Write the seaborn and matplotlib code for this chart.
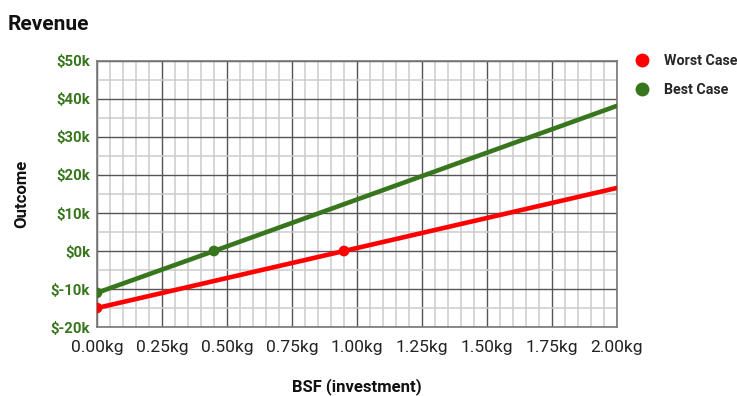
import matplotlib
matplotlib.use("Agg")
import matplotlib.pyplot as plt
import seaborn as sns
import pandas as pd
from matplotlib.ticker import MultipleLocator, FuncFormatter
from matplotlib.lines import Line2D

sns.set_theme(style="white")
plt.rcParams['font.family'] = ['Roboto', 'DejaVu Sans']

# Data
series_names = ["Worst Case", "Best Case"]
worst_x = [0.0, 0.95, 2.0]
worst_y = [-15000, 0, 16600]
best_x = [0.0, 0.45, 2.0]
best_y = [-11000, 0, 38200]
worst_marker_x = [0.0, 0.95]
worst_marker_y = [-15000, 0]
best_marker_x = [0.0, 0.45]
best_marker_y = [-11000, 0]
x_ticks = [0.0, 0.25, 0.5, 0.75, 1.0, 1.25, 1.5, 1.75, 2.0]
y_ticks = [-20000, -10000, 0, 10000, 20000, 30000, 40000, 50000]

RED = "#ff0000"
GREEN = "#38761d"

lines = pd.DataFrame({
    "x": worst_x + best_x,
    "y": worst_y + best_y,
    "series": [series_names[0]] * len(worst_x) + [series_names[1]] * len(best_x),
})
marks = pd.DataFrame({
    "x": worst_marker_x + best_marker_x,
    "y": worst_marker_y + best_marker_y,
    "series": [series_names[0]] * len(worst_marker_x) + [series_names[1]] * len(best_marker_x),
})
palette = {series_names[0]: RED, series_names[1]: GREEN}

fig = plt.figure(figsize=(7.37, 3.96), dpi=100)
ax = fig.add_axes([0.1316, 0.1742, 0.7056, 0.6718])

sns.lineplot(data=lines, x="x", y="y", hue="series", palette=palette, linewidth=3.3,
             legend=False, ax=ax, zorder=3)
sns.scatterplot(data=marks, x="x", y="y", hue="series", palette=palette, s=60,
                edgecolor="none", legend=False, ax=ax, zorder=4)

ax.set_xlim(0, 2.0)
ax.set_ylim(-20000, 50000)
ax.set_xticks(x_ticks)
ax.set_yticks(y_ticks)
ax.xaxis.set_minor_locator(MultipleLocator(0.05))
ax.yaxis.set_minor_locator(MultipleLocator(5000))
ax.xaxis.set_major_formatter(FuncFormatter(lambda v, p: f"{v:.2f}kg"))
ax.yaxis.set_major_formatter(FuncFormatter(lambda v, p: f"${int(round(v/1000))}k"))

ax.grid(which="minor", color="#cccccc", linewidth=1.1, zorder=0)
ax.grid(which="major", color="#555555", linewidth=1.0, zorder=1)
ax.set_axisbelow(True)
for s in ax.spines.values():
    s.set_color("#777777")
    s.set_linewidth(1.2)

ax.tick_params(axis="both", which="both", length=0)
ax.tick_params(axis="x", labelsize=12.5, labelcolor="#222222", pad=9)
ax.tick_params(axis="y", labelsize=10.7, labelcolor=GREEN, pad=5)
for lbl in ax.get_yticklabels():
    lbl.set_fontweight("bold")

ax.set_xlabel("BSF (investment)", fontsize=12, fontweight="bold", color="#111111", labelpad=17)
ax.set_ylabel("Outcome", fontsize=12, fontweight="bold", color="#111111", labelpad=15)

fig.text(0.011, 0.937, "Revenue", fontsize=15, fontweight="bold", color="#111111",
         ha="left", va="center")

handles = [Line2D([0], [0], marker="o", linestyle="", markersize=10, color=RED, markeredgewidth=0),
           Line2D([0], [0], marker="o", linestyle="", markersize=10, color=GREEN, markeredgewidth=0)]
leg = fig.legend(handles, series_names, loc="upper left", bbox_to_anchor=(0.8435, 0.877),
                 frameon=False, handletextpad=0.55, labelspacing=1.05, borderaxespad=0,
                 prop={"weight": "bold", "size": 10.3})

fig.savefig("out.png", dpi=100)
